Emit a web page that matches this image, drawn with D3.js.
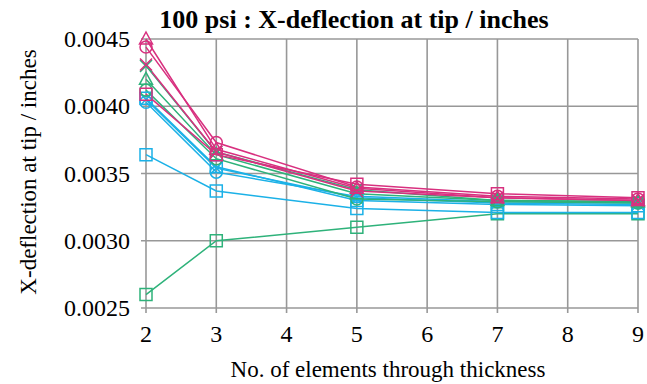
<!DOCTYPE html>
<html>
<head>
<meta charset="utf-8">
<script src="https://cdn.jsdelivr.net/npm/d3@7/dist/d3.min.js"></script>
<style>
    body { margin: 0; background: #fff; }
</style>
</head>
<body>
<svg id="chart" width="647" height="384"></svg>
<script>
// x: number of elements through thickness
var elements = [2, 3, 5, 7, 9];
var xTicks = [2, 3, 4, 5, 6, 7, 8, 9];
var yTicks = [0.0025, 0.0030, 0.0035, 0.0040, 0.0045];

// magenta runs
var magTriangle = [0.00450, 0.00368, 0.00339, 0.00332, 0.00330];
var magCircle   = [0.00444, 0.00373, 0.00340, 0.00333, 0.00331];
var magCross    = [0.00431, 0.00366, 0.00337, 0.00332, 0.00330];
var magSquare   = [0.00409, 0.00364, 0.00342, 0.00335, 0.00332];

// green runs
var grnCross    = [0.00430, 0.00366, 0.00338, 0.00330, 0.00329];
var grnTriangle = [0.00420, 0.00364, 0.00335, 0.00330, 0.00329];
var grnCircle   = [0.00412, 0.00361, 0.00331, 0.00329, 0.00328];
var grnSquare   = [0.00260, 0.00300, 0.00310, 0.00320, 0.00320];

// cyan runs
var cyaSquare   = [0.00406, 0.00355, 0.00330, 0.00327, 0.00326];
var cyaCross    = [0.00405, 0.00354, 0.00332, 0.00328, 0.00327];
var cyaCircle   = [0.00403, 0.00351, 0.00333, 0.00329, 0.00328];
var cyaSquare2  = [0.00364, 0.00337, 0.00324, 0.00321, 0.00321];

var MAG = '#d8307f', GRN = '#2eb27a', CYA = '#1bb1e7';
var FONT = '"Liberation Serif", "Times New Roman", Tinos, "DejaVu Serif", serif';

var series = [
    {values: grnSquare, color: GRN, marker: 'square'},
    {values: cyaSquare2, color: CYA, marker: 'square'},
    {values: cyaCircle, color: CYA, marker: 'circle'},
    {values: cyaCross, color: CYA, marker: 'cross'},
    {values: cyaSquare, color: CYA, marker: 'square'},
    {values: grnCircle, color: GRN, marker: 'circle'},
    {values: grnTriangle, color: GRN, marker: 'triangle'},
    {values: grnCross, color: GRN, marker: 'cross'},
    {values: magSquare, color: MAG, marker: 'square'},
    {values: magCross, color: MAG, marker: 'cross'},
    {values: magCircle, color: MAG, marker: 'circle'},
    {values: magTriangle, color: MAG, marker: 'triangle'}
];

var margin = {left: 146, right: 9, top: 39, bottom: 76};
var width = 647, height = 384;

var svg = d3.select('svg#chart');

// titles first
svg.append('text')
    .attr('x', 354).attr('y', 28)
    .attr('text-anchor', 'middle')
    .style('font-family', FONT)
    .style('font-size', '26px').style('font-weight', 'bold')
    .text('100 psi : X-deflection at tip / inches');

svg.append('text')
    .attr('x', 388).attr('y', 377)
    .attr('text-anchor', 'middle')
    .style('font-family', FONT)
    .style('font-size', '23px')
    .text('No. of elements through thickness');

svg.append('text')
    .attr('transform', 'translate(36,172) rotate(-90)')
    .attr('text-anchor', 'middle')
    .style('font-family', FONT)
    .style('font-size', '23px')
    .text('X-deflection at tip / inches');

var x = d3.scaleLinear().domain([2, 9]).range([margin.left, width - margin.right]);
var y = d3.scaleLinear().domain([0.0025, 0.0045]).range([height - margin.bottom, margin.top]);

var grid = svg.append('g');

grid.selectAll('line.v')
    .data(xTicks)
    .enter().append('line')
    .attr('x1', d => x(d)).attr('x2', d => x(d))
    .attr('y1', y(0.0045)).attr('y2', y(0.0025) + 5)
    .attr('stroke', '#989898').attr('stroke-width', 1.6);

grid.selectAll('line.h')
    .data(yTicks)
    .enter().append('line')
    .attr('x1', x(2) - 5).attr('x2', x(9))
    .attr('y1', d => y(d)).attr('y2', d => y(d))
    .attr('stroke', '#989898').attr('stroke-width', 1.6);

// tick labels drawn from the scales
svg.append('g').selectAll('text')
    .data(xTicks)
    .enter().append('text')
    .attr('x', d => x(d)).attr('y', y(0.0025) + 34)
    .attr('text-anchor', 'middle')
    .style('font-family', FONT).style('font-size', '24px')
    .text(d3.format('d'));

svg.append('g').selectAll('text')
    .data(yTicks)
    .enter().append('text')
    .attr('x', x(2) - 16).attr('y', d => y(d) + 8)
    .attr('text-anchor', 'end')
    .style('font-family', FONT).style('font-size', '24px')
    .text(d3.format('.4f'));

var line = d3.line()
    .x((d, i) => x(elements[i]))
    .y(d => y(d));

var plot = svg.append('g');

plot.selectAll('path.line')
    .data(series)
    .enter().append('path')
    .attr('d', d => line(d.values))
    .attr('fill', 'none')
    .attr('stroke', d => d.color)
    .attr('stroke-width', 1.5);

function markerPath(type) {
    var r = 6;
    if (type === 'square') return 'M' + -r + ',' + -r + 'h' + 2 * r + 'v' + 2 * r + 'h' + -2 * r + 'Z';
    if (type === 'triangle') return 'M0,-7L6.5,5H-6.5Z';
    if (type === 'cross') return 'M-6,-6L6,6M-6,6L6,-6';
    return d3.arc()({innerRadius: 0, outerRadius: r, startAngle: 0, endAngle: 2 * Math.PI});
}

series.forEach(function(s) {
    plot.append('g')
        .selectAll('path')
        .data(s.values)
        .enter().append('path')
        .attr('transform', (d, i) => 'translate(' + x(elements[i]) + ',' + y(d) + ')')
        .attr('d', markerPath(s.marker))
        .attr('fill', 'none')
        .attr('stroke', s.color)
        .attr('stroke-width', 1.5);
});
</script>
</body>
</html>
